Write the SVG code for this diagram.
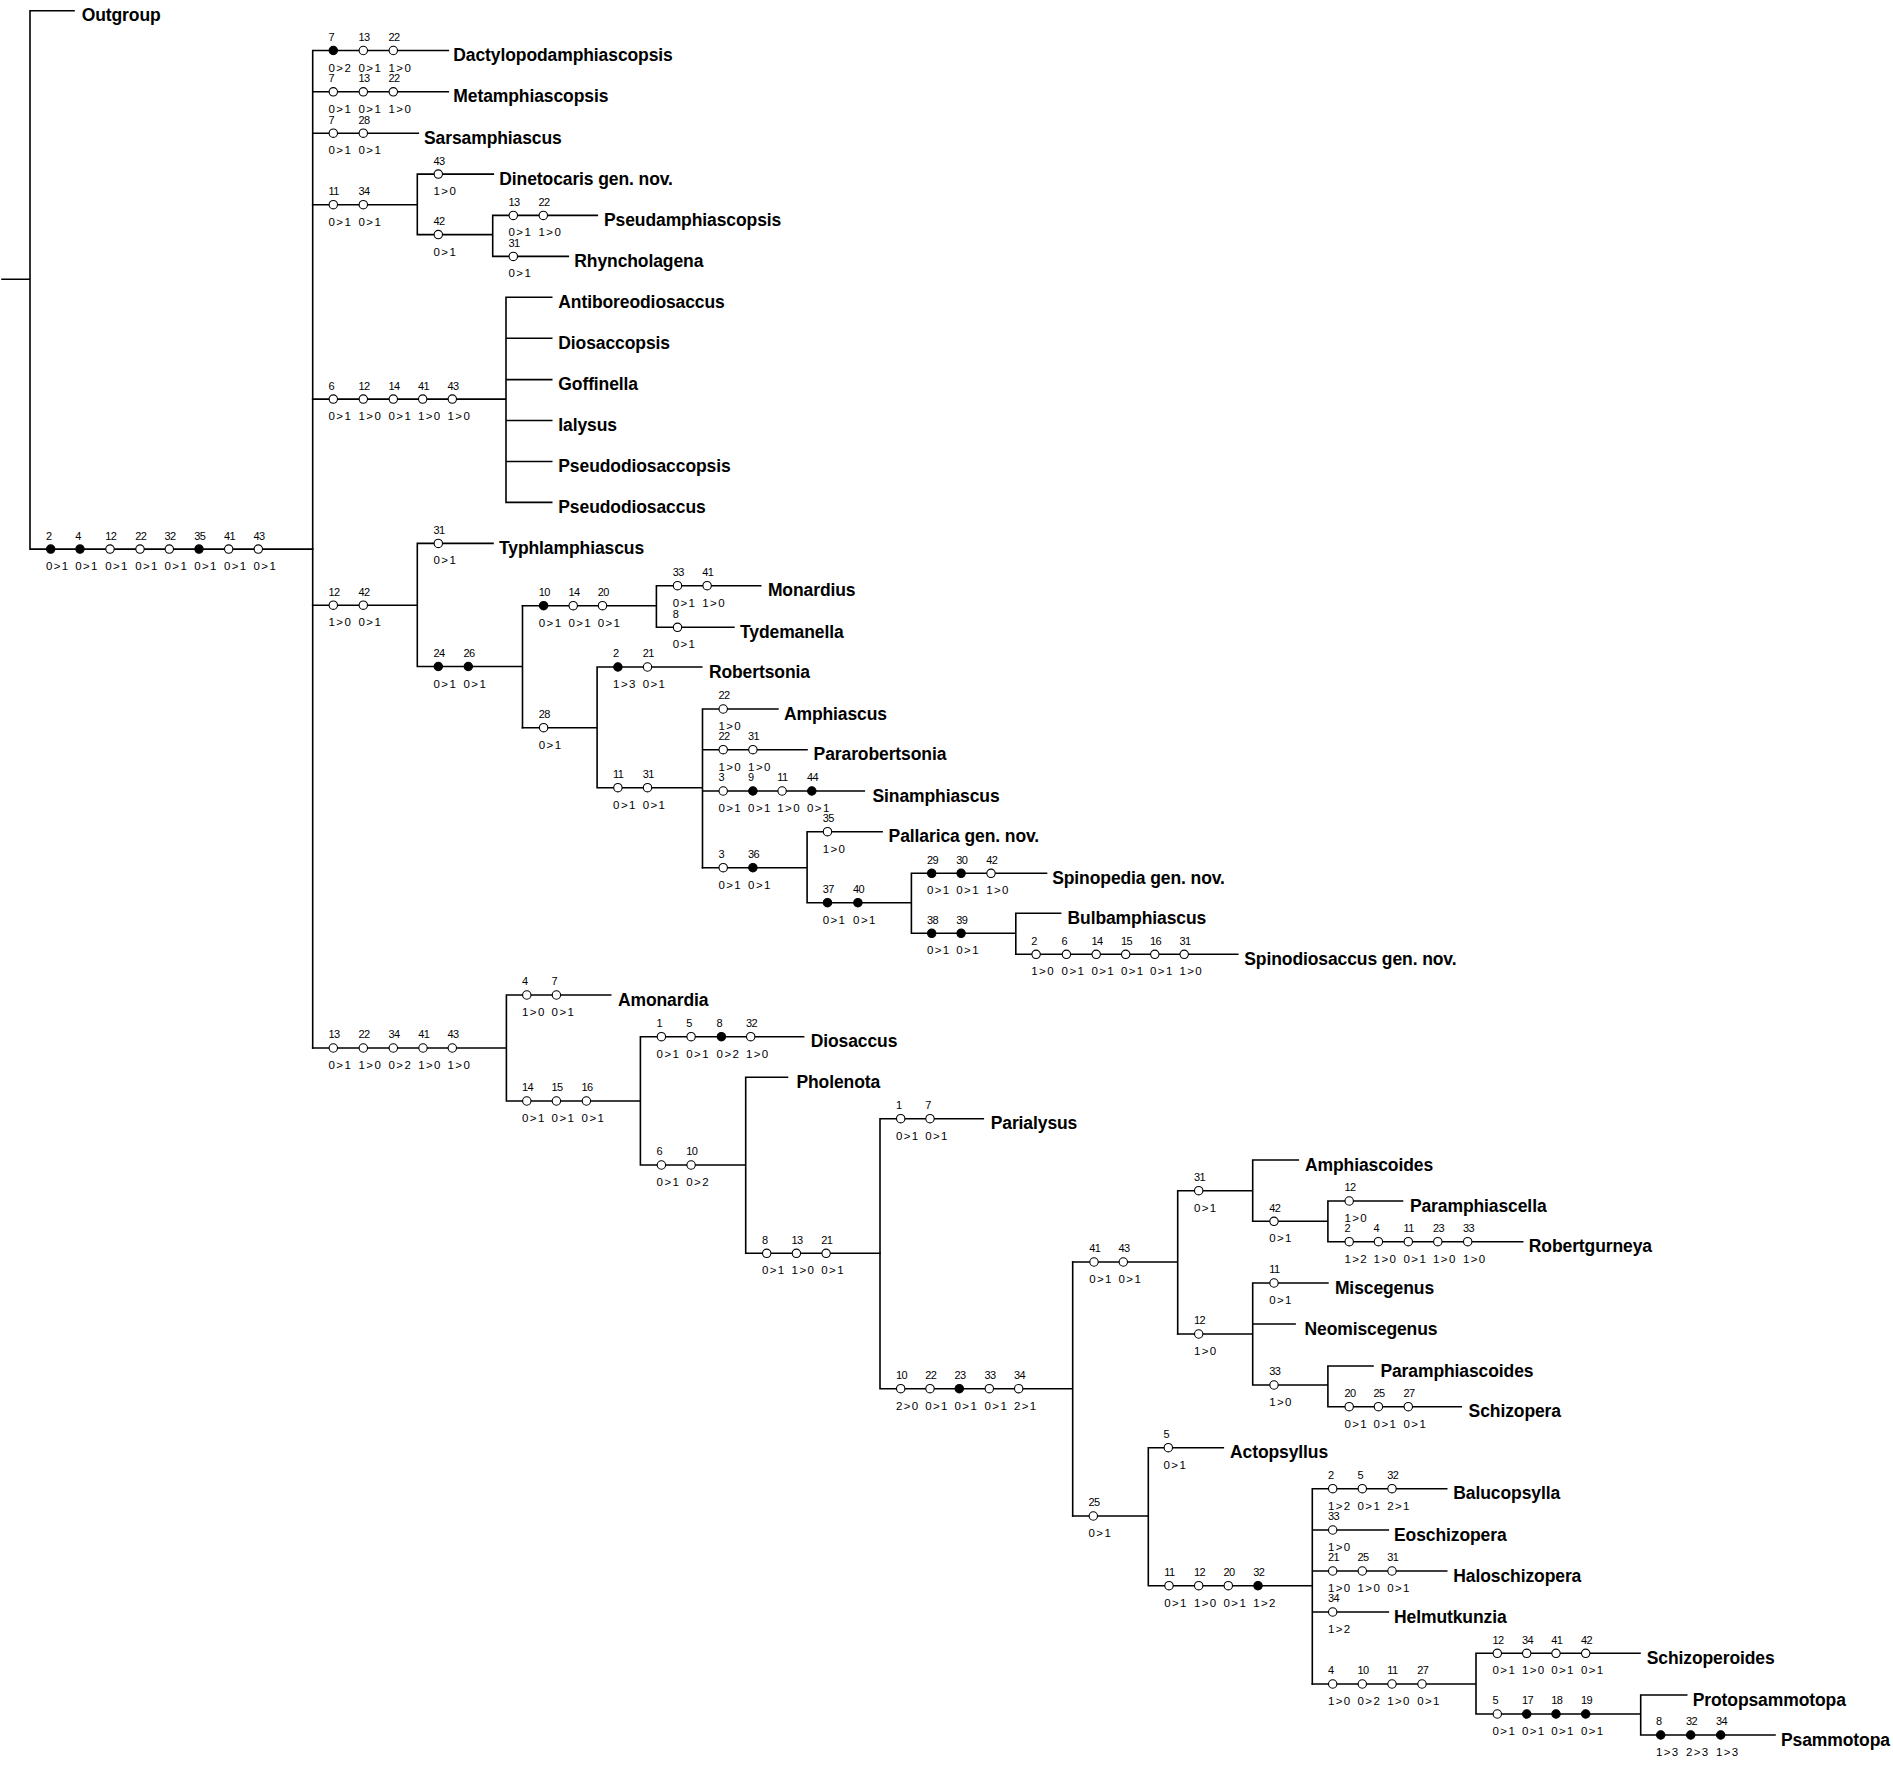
<svg xmlns="http://www.w3.org/2000/svg" width="1893" height="1787" viewBox="0 0 1893 1787">
<style>
.ln{stroke:#000;stroke-width:1.6;fill:none;stroke-linecap:square}
.o{fill:#fff;stroke:#000;stroke-width:1.1}
.f{fill:#000;stroke:#000;stroke-width:1.1}
text{font-family:"Liberation Sans",Arial,sans-serif;fill:#000}
.n{font-size:11px;letter-spacing:-0.6px}
.s{font-size:11.5px;letter-spacing:1.4px}
.t{font-size:17.5px;font-weight:bold;letter-spacing:-0.1px}
</style>
<rect width="1893" height="1787" fill="#fff"/>
<g id="connectors" class="ln">
<path d="M2,279.3H30M30,10.7V549.1M30,10.7H74M30,549.1H312.7"/>
<path d="M312.7,50.5V1048M312.7,50.5H448.3M312.7,91.8H448.3M312.7,133.2H418.3"/>
<path d="M312.7,204.7H417.3M417.3,174.1V234.6M417.3,174.1H493.3M417.3,234.6H492.7M492.7,215.4V256.4M492.7,215.4H597.3M492.7,256.4H568.3"/>
<path d="M312.7,399.1H506M506,297.3V502.4M506,297.3H551.7M506,338.3H551.7M506,379.6H551.7M506,420.5H551.7M506,461.5H551.7M506,502.4H551.7"/>
<path d="M312.7,605.2H417.3M417.3,543.4V666.5M417.3,543.4H493M417.3,666.5H522.5M522.5,605.7V727.7"/>
<path d="M522.5,605.7H656.4M656.4,585.7V627.3M656.4,585.7H760.7M656.4,627.3H733.9"/>
<path d="M522.5,727.7H597.1M597.1,667V787.7M597.1,667H701.8M597.1,787.7H702.5M702.5,709V867.7M702.5,709H777.9M702.5,749.7H807M702.5,791H864.3"/>
<path d="M702.5,867.7H807.1M807.1,831.7V902.7M807.1,831.7H882.1M807.1,902.7H911.4M911.4,873.3V933.3M911.4,873.3H1046.5M911.4,933.3H1015.8M1015.8,913.3V954.3M1015.8,913.3H1060.6M1015.8,954.3H1237.8"/>
<path d="M312.7,1048H506.4M506.4,995V1101M506.4,995H610.7M506.4,1101H640.4M640.4,1036.7V1165M640.4,1036.7H803.6M640.4,1165H745.7M745.7,1077.3V1253.3M745.7,1077.3H787.5M745.7,1253.3H880"/>
<path d="M880,1118.7V1388.7M880,1118.7H983.3M880,1388.7H1072.7M1072.7,1262V1516"/>
<path d="M1072.7,1262H1177.7M1177.7,1190.7V1334M1177.7,1190.7H1252.7M1252.7,1160V1221.3M1252.7,1160H1298.3M1252.7,1221.3H1327.9M1327.9,1201V1241.7M1327.9,1201H1402.5M1327.9,1241.7H1522.7"/>
<path d="M1177.7,1334H1252.7M1252.7,1283V1385M1252.7,1283H1327.9M1252.7,1324H1295.1M1252.7,1385H1327.9M1327.9,1366V1406.7M1327.9,1366H1373M1327.9,1406.7H1461.2"/>
<path d="M1072.7,1516H1148.3M1148.3,1447.7V1585.7M1148.3,1447.7H1223.3M1148.3,1585.7H1312.3M1312.3,1488.7V1684M1312.3,1488.7H1446.7M1312.3,1530H1388.3M1312.3,1571H1446.7M1312.3,1612H1388.3"/>
<path d="M1312.3,1684H1476M1476,1653.3V1714M1476,1653.3H1640M1476,1714H1640.7M1640.7,1695V1735M1640.7,1695H1686.7M1640.7,1735H1775"/>
</g>
<g id="characters">
<g id="ch-base" transform="translate(0,549.1)">
<g transform="translate(50.7)"><circle class="f" r="4.2"/><text class="n" x="-4.8" y="-9.6">2</text><text class="s" x="-4.8" y="21">0&gt;1</text></g>
<g transform="translate(80)"><circle class="f" r="4.2"/><text class="n" x="-4.8" y="-9.6">4</text><text class="s" x="-4.8" y="21">0&gt;1</text></g>
<g transform="translate(110)"><circle class="o" r="4.2"/><text class="n" x="-4.8" y="-9.6">12</text><text class="s" x="-4.8" y="21">0&gt;1</text></g>
<g transform="translate(140)"><circle class="o" r="4.2"/><text class="n" x="-4.8" y="-9.6">22</text><text class="s" x="-4.8" y="21">0&gt;1</text></g>
<g transform="translate(169.3)"><circle class="o" r="4.2"/><text class="n" x="-4.8" y="-9.6">32</text><text class="s" x="-4.8" y="21">0&gt;1</text></g>
<g transform="translate(199)"><circle class="f" r="4.2"/><text class="n" x="-4.8" y="-9.6">35</text><text class="s" x="-4.8" y="21">0&gt;1</text></g>
<g transform="translate(228.7)"><circle class="o" r="4.2"/><text class="n" x="-4.8" y="-9.6">41</text><text class="s" x="-4.8" y="21">0&gt;1</text></g>
<g transform="translate(258.3)"><circle class="o" r="4.2"/><text class="n" x="-4.8" y="-9.6">43</text><text class="s" x="-4.8" y="21">0&gt;1</text></g>
</g>
<g id="ch-dactylo" transform="translate(0,50.5)">
<g transform="translate(333.3)"><circle class="f" r="4.2"/><text class="n" x="-4.8" y="-9.6">7</text><text class="s" x="-4.8" y="21">0&gt;2</text></g>
<g transform="translate(363.3)"><circle class="o" r="4.2"/><text class="n" x="-4.8" y="-9.6">13</text><text class="s" x="-4.8" y="21">0&gt;1</text></g>
<g transform="translate(393.3)"><circle class="o" r="4.2"/><text class="n" x="-4.8" y="-9.6">22</text><text class="s" x="-4.8" y="21">1&gt;0</text></g>
</g>
<g id="ch-metamph" transform="translate(0,91.8)">
<g transform="translate(333.3)"><circle class="o" r="4.2"/><text class="n" x="-4.8" y="-9.6">7</text><text class="s" x="-4.8" y="21">0&gt;1</text></g>
<g transform="translate(363.3)"><circle class="o" r="4.2"/><text class="n" x="-4.8" y="-9.6">13</text><text class="s" x="-4.8" y="21">0&gt;1</text></g>
<g transform="translate(393.3)"><circle class="o" r="4.2"/><text class="n" x="-4.8" y="-9.6">22</text><text class="s" x="-4.8" y="21">1&gt;0</text></g>
</g>
<g id="ch-sarsamph" transform="translate(0,133.2)">
<g transform="translate(333.3)"><circle class="o" r="4.2"/><text class="n" x="-4.8" y="-9.6">7</text><text class="s" x="-4.8" y="21">0&gt;1</text></g>
<g transform="translate(363.3)"><circle class="o" r="4.2"/><text class="n" x="-4.8" y="-9.6">28</text><text class="s" x="-4.8" y="21">0&gt;1</text></g>
</g>
<g id="ch-11-34" transform="translate(0,204.7)">
<g transform="translate(333.3)"><circle class="o" r="4.2"/><text class="n" x="-4.8" y="-9.6">11</text><text class="s" x="-4.8" y="21">0&gt;1</text></g>
<g transform="translate(363.3)"><circle class="o" r="4.2"/><text class="n" x="-4.8" y="-9.6">34</text><text class="s" x="-4.8" y="21">0&gt;1</text></g>
</g>
<g id="ch-dinetocaris" transform="translate(0,174.1)">
<g transform="translate(438.3)"><circle class="o" r="4.2"/><text class="n" x="-4.8" y="-9.6">43</text><text class="s" x="-4.8" y="21">1&gt;0</text></g>
</g>
<g id="ch-42a" transform="translate(0,234.6)">
<g transform="translate(438.3)"><circle class="o" r="4.2"/><text class="n" x="-4.8" y="-9.6">42</text><text class="s" x="-4.8" y="21">0&gt;1</text></g>
</g>
<g id="ch-pseudamph" transform="translate(0,215.4)">
<g transform="translate(513.3)"><circle class="o" r="4.2"/><text class="n" x="-4.8" y="-9.6">13</text><text class="s" x="-4.8" y="21">0&gt;1</text></g>
<g transform="translate(543.3)"><circle class="o" r="4.2"/><text class="n" x="-4.8" y="-9.6">22</text><text class="s" x="-4.8" y="21">1&gt;0</text></g>
</g>
<g id="ch-rhyncho" transform="translate(0,256.4)">
<g transform="translate(513.3)"><circle class="o" r="4.2"/><text class="n" x="-4.8" y="-9.6">31</text><text class="s" x="-4.8" y="21">0&gt;1</text></g>
</g>
<g id="ch-6-43" transform="translate(0,399.1)">
<g transform="translate(333.3)"><circle class="o" r="4.2"/><text class="n" x="-4.8" y="-9.6">6</text><text class="s" x="-4.8" y="21">0&gt;1</text></g>
<g transform="translate(363.3)"><circle class="o" r="4.2"/><text class="n" x="-4.8" y="-9.6">12</text><text class="s" x="-4.8" y="21">1&gt;0</text></g>
<g transform="translate(393.3)"><circle class="o" r="4.2"/><text class="n" x="-4.8" y="-9.6">14</text><text class="s" x="-4.8" y="21">0&gt;1</text></g>
<g transform="translate(422.7)"><circle class="o" r="4.2"/><text class="n" x="-4.8" y="-9.6">41</text><text class="s" x="-4.8" y="21">1&gt;0</text></g>
<g transform="translate(452.3)"><circle class="o" r="4.2"/><text class="n" x="-4.8" y="-9.6">43</text><text class="s" x="-4.8" y="21">1&gt;0</text></g>
</g>
<g id="ch-12-42" transform="translate(0,605.2)">
<g transform="translate(333.3)"><circle class="o" r="4.2"/><text class="n" x="-4.8" y="-9.6">12</text><text class="s" x="-4.8" y="21">1&gt;0</text></g>
<g transform="translate(363.3)"><circle class="o" r="4.2"/><text class="n" x="-4.8" y="-9.6">42</text><text class="s" x="-4.8" y="21">0&gt;1</text></g>
</g>
<g id="ch-typhl" transform="translate(0,543.4)">
<g transform="translate(438.3)"><circle class="o" r="4.2"/><text class="n" x="-4.8" y="-9.6">31</text><text class="s" x="-4.8" y="21">0&gt;1</text></g>
</g>
<g id="ch-24-26" transform="translate(0,666.5)">
<g transform="translate(438.3)"><circle class="f" r="4.2"/><text class="n" x="-4.8" y="-9.6">24</text><text class="s" x="-4.8" y="21">0&gt;1</text></g>
<g transform="translate(468.3)"><circle class="f" r="4.2"/><text class="n" x="-4.8" y="-9.6">26</text><text class="s" x="-4.8" y="21">0&gt;1</text></g>
</g>
<g id="ch-10-14-20" transform="translate(0,605.7)">
<g transform="translate(543.6)"><circle class="f" r="4.2"/><text class="n" x="-4.8" y="-9.6">10</text><text class="s" x="-4.8" y="21">0&gt;1</text></g>
<g transform="translate(573.2)"><circle class="o" r="4.2"/><text class="n" x="-4.8" y="-9.6">14</text><text class="s" x="-4.8" y="21">0&gt;1</text></g>
<g transform="translate(602.5)"><circle class="o" r="4.2"/><text class="n" x="-4.8" y="-9.6">20</text><text class="s" x="-4.8" y="21">0&gt;1</text></g>
</g>
<g id="ch-monardius" transform="translate(0,585.7)">
<g transform="translate(677.5)"><circle class="o" r="4.2"/><text class="n" x="-4.8" y="-9.6">33</text><text class="s" x="-4.8" y="21">0&gt;1</text></g>
<g transform="translate(707.1)"><circle class="o" r="4.2"/><text class="n" x="-4.8" y="-9.6">41</text><text class="s" x="-4.8" y="21">1&gt;0</text></g>
</g>
<g id="ch-tydemanella" transform="translate(0,627.3)">
<g transform="translate(677.5)"><circle class="o" r="4.2"/><text class="n" x="-4.8" y="-9.6">8</text><text class="s" x="-4.8" y="21">0&gt;1</text></g>
</g>
<g id="ch-28" transform="translate(0,727.7)">
<g transform="translate(543.6)"><circle class="o" r="4.2"/><text class="n" x="-4.8" y="-9.6">28</text><text class="s" x="-4.8" y="21">0&gt;1</text></g>
</g>
<g id="ch-robertsonia" transform="translate(0,667)">
<g transform="translate(617.9)"><circle class="f" r="4.2"/><text class="n" x="-4.8" y="-9.6">2</text><text class="s" x="-4.8" y="21">1&gt;3</text></g>
<g transform="translate(647.5)"><circle class="o" r="4.2"/><text class="n" x="-4.8" y="-9.6">21</text><text class="s" x="-4.8" y="21">0&gt;1</text></g>
</g>
<g id="ch-11-31" transform="translate(0,787.7)">
<g transform="translate(617.9)"><circle class="o" r="4.2"/><text class="n" x="-4.8" y="-9.6">11</text><text class="s" x="-4.8" y="21">0&gt;1</text></g>
<g transform="translate(647.5)"><circle class="o" r="4.2"/><text class="n" x="-4.8" y="-9.6">31</text><text class="s" x="-4.8" y="21">0&gt;1</text></g>
</g>
<g id="ch-amphiascus" transform="translate(0,709)">
<g transform="translate(723.2)"><circle class="o" r="4.2"/><text class="n" x="-4.8" y="-9.6">22</text><text class="s" x="-4.8" y="21">1&gt;0</text></g>
</g>
<g id="ch-pararob" transform="translate(0,749.7)">
<g transform="translate(723.2)"><circle class="o" r="4.2"/><text class="n" x="-4.8" y="-9.6">22</text><text class="s" x="-4.8" y="21">1&gt;0</text></g>
<g transform="translate(752.9)"><circle class="o" r="4.2"/><text class="n" x="-4.8" y="-9.6">31</text><text class="s" x="-4.8" y="21">1&gt;0</text></g>
</g>
<g id="ch-sinamph" transform="translate(0,791)">
<g transform="translate(723.2)"><circle class="o" r="4.2"/><text class="n" x="-4.8" y="-9.6">3</text><text class="s" x="-4.8" y="21">0&gt;1</text></g>
<g transform="translate(752.9)"><circle class="f" r="4.2"/><text class="n" x="-4.8" y="-9.6">9</text><text class="s" x="-4.8" y="21">0&gt;1</text></g>
<g transform="translate(782.1)"><circle class="o" r="4.2"/><text class="n" x="-4.8" y="-9.6">11</text><text class="s" x="-4.8" y="21">1&gt;0</text></g>
<g transform="translate(811.8)"><circle class="f" r="4.2"/><text class="n" x="-4.8" y="-9.6">44</text><text class="s" x="-4.8" y="21">0&gt;1</text></g>
</g>
<g id="ch-3-36" transform="translate(0,867.7)">
<g transform="translate(723.2)"><circle class="o" r="4.2"/><text class="n" x="-4.8" y="-9.6">3</text><text class="s" x="-4.8" y="21">0&gt;1</text></g>
<g transform="translate(752.9)"><circle class="f" r="4.2"/><text class="n" x="-4.8" y="-9.6">36</text><text class="s" x="-4.8" y="21">0&gt;1</text></g>
</g>
<g id="ch-pallarica" transform="translate(0,831.7)">
<g transform="translate(827.5)"><circle class="o" r="4.2"/><text class="n" x="-4.8" y="-9.6">35</text><text class="s" x="-4.8" y="21">1&gt;0</text></g>
</g>
<g id="ch-37-40" transform="translate(0,902.7)">
<g transform="translate(827.5)"><circle class="f" r="4.2"/><text class="n" x="-4.8" y="-9.6">37</text><text class="s" x="-4.8" y="21">0&gt;1</text></g>
<g transform="translate(857.9)"><circle class="f" r="4.2"/><text class="n" x="-4.8" y="-9.6">40</text><text class="s" x="-4.8" y="21">0&gt;1</text></g>
</g>
<g id="ch-spinopedia" transform="translate(0,873.3)">
<g transform="translate(931.7)"><circle class="f" r="4.2"/><text class="n" x="-4.8" y="-9.6">29</text><text class="s" x="-4.8" y="21">0&gt;1</text></g>
<g transform="translate(961.1)"><circle class="f" r="4.2"/><text class="n" x="-4.8" y="-9.6">30</text><text class="s" x="-4.8" y="21">0&gt;1</text></g>
<g transform="translate(991)"><circle class="o" r="4.2"/><text class="n" x="-4.8" y="-9.6">42</text><text class="s" x="-4.8" y="21">1&gt;0</text></g>
</g>
<g id="ch-38-39" transform="translate(0,933.3)">
<g transform="translate(931.7)"><circle class="f" r="4.2"/><text class="n" x="-4.8" y="-9.6">38</text><text class="s" x="-4.8" y="21">0&gt;1</text></g>
<g transform="translate(961.1)"><circle class="f" r="4.2"/><text class="n" x="-4.8" y="-9.6">39</text><text class="s" x="-4.8" y="21">0&gt;1</text></g>
</g>
<g id="ch-spinodiosaccus" transform="translate(0,954.3)">
<g transform="translate(1036.1)"><circle class="o" r="4.2"/><text class="n" x="-4.8" y="-9.6">2</text><text class="s" x="-4.8" y="21">1&gt;0</text></g>
<g transform="translate(1066.4)"><circle class="o" r="4.2"/><text class="n" x="-4.8" y="-9.6">6</text><text class="s" x="-4.8" y="21">0&gt;1</text></g>
<g transform="translate(1096.2)"><circle class="o" r="4.2"/><text class="n" x="-4.8" y="-9.6">14</text><text class="s" x="-4.8" y="21">0&gt;1</text></g>
<g transform="translate(1125.7)"><circle class="o" r="4.2"/><text class="n" x="-4.8" y="-9.6">15</text><text class="s" x="-4.8" y="21">0&gt;1</text></g>
<g transform="translate(1154.8)"><circle class="o" r="4.2"/><text class="n" x="-4.8" y="-9.6">16</text><text class="s" x="-4.8" y="21">0&gt;1</text></g>
<g transform="translate(1184.2)"><circle class="o" r="4.2"/><text class="n" x="-4.8" y="-9.6">31</text><text class="s" x="-4.8" y="21">1&gt;0</text></g>
</g>
<g id="ch-13-43" transform="translate(0,1048)">
<g transform="translate(333.3)"><circle class="o" r="4.2"/><text class="n" x="-4.8" y="-9.6">13</text><text class="s" x="-4.8" y="21">0&gt;1</text></g>
<g transform="translate(363.3)"><circle class="o" r="4.2"/><text class="n" x="-4.8" y="-9.6">22</text><text class="s" x="-4.8" y="21">1&gt;0</text></g>
<g transform="translate(393.3)"><circle class="o" r="4.2"/><text class="n" x="-4.8" y="-9.6">34</text><text class="s" x="-4.8" y="21">0&gt;2</text></g>
<g transform="translate(423)"><circle class="o" r="4.2"/><text class="n" x="-4.8" y="-9.6">41</text><text class="s" x="-4.8" y="21">1&gt;0</text></g>
<g transform="translate(452.3)"><circle class="o" r="4.2"/><text class="n" x="-4.8" y="-9.6">43</text><text class="s" x="-4.8" y="21">1&gt;0</text></g>
</g>
<g id="ch-amonardia" transform="translate(0,995)">
<g transform="translate(526.8)"><circle class="o" r="4.2"/><text class="n" x="-4.8" y="-9.6">4</text><text class="s" x="-4.8" y="21">1&gt;0</text></g>
<g transform="translate(556.4)"><circle class="o" r="4.2"/><text class="n" x="-4.8" y="-9.6">7</text><text class="s" x="-4.8" y="21">0&gt;1</text></g>
</g>
<g id="ch-14-15-16" transform="translate(0,1101)">
<g transform="translate(526.8)"><circle class="o" r="4.2"/><text class="n" x="-4.8" y="-9.6">14</text><text class="s" x="-4.8" y="21">0&gt;1</text></g>
<g transform="translate(556.4)"><circle class="o" r="4.2"/><text class="n" x="-4.8" y="-9.6">15</text><text class="s" x="-4.8" y="21">0&gt;1</text></g>
<g transform="translate(586.4)"><circle class="o" r="4.2"/><text class="n" x="-4.8" y="-9.6">16</text><text class="s" x="-4.8" y="21">0&gt;1</text></g>
</g>
<g id="ch-diosaccus" transform="translate(0,1036.7)">
<g transform="translate(661.4)"><circle class="o" r="4.2"/><text class="n" x="-4.8" y="-9.6">1</text><text class="s" x="-4.8" y="21">0&gt;1</text></g>
<g transform="translate(691.1)"><circle class="o" r="4.2"/><text class="n" x="-4.8" y="-9.6">5</text><text class="s" x="-4.8" y="21">0&gt;1</text></g>
<g transform="translate(721.4)"><circle class="f" r="4.2"/><text class="n" x="-4.8" y="-9.6">8</text><text class="s" x="-4.8" y="21">0&gt;2</text></g>
<g transform="translate(750.7)"><circle class="o" r="4.2"/><text class="n" x="-4.8" y="-9.6">32</text><text class="s" x="-4.8" y="21">1&gt;0</text></g>
</g>
<g id="ch-6-10" transform="translate(0,1165)">
<g transform="translate(661.4)"><circle class="o" r="4.2"/><text class="n" x="-4.8" y="-9.6">6</text><text class="s" x="-4.8" y="21">0&gt;1</text></g>
<g transform="translate(691.1)"><circle class="o" r="4.2"/><text class="n" x="-4.8" y="-9.6">10</text><text class="s" x="-4.8" y="21">0&gt;2</text></g>
</g>
<g id="ch-8-13-21" transform="translate(0,1253.3)">
<g transform="translate(766.7)"><circle class="o" r="4.2"/><text class="n" x="-4.8" y="-9.6">8</text><text class="s" x="-4.8" y="21">0&gt;1</text></g>
<g transform="translate(796.4)"><circle class="o" r="4.2"/><text class="n" x="-4.8" y="-9.6">13</text><text class="s" x="-4.8" y="21">1&gt;0</text></g>
<g transform="translate(826.1)"><circle class="o" r="4.2"/><text class="n" x="-4.8" y="-9.6">21</text><text class="s" x="-4.8" y="21">0&gt;1</text></g>
</g>
<g id="ch-parialysus" transform="translate(0,1118.7)">
<g transform="translate(900.7)"><circle class="o" r="4.2"/><text class="n" x="-4.8" y="-9.6">1</text><text class="s" x="-4.8" y="21">0&gt;1</text></g>
<g transform="translate(930)"><circle class="o" r="4.2"/><text class="n" x="-4.8" y="-9.6">7</text><text class="s" x="-4.8" y="21">0&gt;1</text></g>
</g>
<g id="ch-10-34" transform="translate(0,1388.7)">
<g transform="translate(900.7)"><circle class="o" r="4.2"/><text class="n" x="-4.8" y="-9.6">10</text><text class="s" x="-4.8" y="21">2&gt;0</text></g>
<g transform="translate(930)"><circle class="o" r="4.2"/><text class="n" x="-4.8" y="-9.6">22</text><text class="s" x="-4.8" y="21">0&gt;1</text></g>
<g transform="translate(959.3)"><circle class="f" r="4.2"/><text class="n" x="-4.8" y="-9.6">23</text><text class="s" x="-4.8" y="21">0&gt;1</text></g>
<g transform="translate(989.3)"><circle class="o" r="4.2"/><text class="n" x="-4.8" y="-9.6">33</text><text class="s" x="-4.8" y="21">0&gt;1</text></g>
<g transform="translate(1018.7)"><circle class="o" r="4.2"/><text class="n" x="-4.8" y="-9.6">34</text><text class="s" x="-4.8" y="21">2&gt;1</text></g>
</g>
<g id="ch-41-43" transform="translate(0,1262)">
<g transform="translate(1094)"><circle class="o" r="4.2"/><text class="n" x="-4.8" y="-9.6">41</text><text class="s" x="-4.8" y="21">0&gt;1</text></g>
<g transform="translate(1123.3)"><circle class="o" r="4.2"/><text class="n" x="-4.8" y="-9.6">43</text><text class="s" x="-4.8" y="21">0&gt;1</text></g>
</g>
<g id="ch-31b" transform="translate(0,1190.7)">
<g transform="translate(1198.7)"><circle class="o" r="4.2"/><text class="n" x="-4.8" y="-9.6">31</text><text class="s" x="-4.8" y="21">0&gt;1</text></g>
</g>
<g id="ch-42b" transform="translate(0,1221.3)">
<g transform="translate(1274)"><circle class="o" r="4.2"/><text class="n" x="-4.8" y="-9.6">42</text><text class="s" x="-4.8" y="21">0&gt;1</text></g>
</g>
<g id="ch-paramphiascella" transform="translate(0,1201)">
<g transform="translate(1349.2)"><circle class="o" r="4.2"/><text class="n" x="-4.8" y="-9.6">12</text><text class="s" x="-4.8" y="21">1&gt;0</text></g>
</g>
<g id="ch-robertgurneya" transform="translate(0,1241.7)">
<g transform="translate(1349.2)"><circle class="o" r="4.2"/><text class="n" x="-4.8" y="-9.6">2</text><text class="s" x="-4.8" y="21">1&gt;2</text></g>
<g transform="translate(1378.4)"><circle class="o" r="4.2"/><text class="n" x="-4.8" y="-9.6">4</text><text class="s" x="-4.8" y="21">1&gt;0</text></g>
<g transform="translate(1408.3)"><circle class="o" r="4.2"/><text class="n" x="-4.8" y="-9.6">11</text><text class="s" x="-4.8" y="21">0&gt;1</text></g>
<g transform="translate(1437.8)"><circle class="o" r="4.2"/><text class="n" x="-4.8" y="-9.6">23</text><text class="s" x="-4.8" y="21">1&gt;0</text></g>
<g transform="translate(1467.7)"><circle class="o" r="4.2"/><text class="n" x="-4.8" y="-9.6">33</text><text class="s" x="-4.8" y="21">1&gt;0</text></g>
</g>
<g id="ch-12b" transform="translate(0,1334)">
<g transform="translate(1198.7)"><circle class="o" r="4.2"/><text class="n" x="-4.8" y="-9.6">12</text><text class="s" x="-4.8" y="21">1&gt;0</text></g>
</g>
<g id="ch-miscegenus" transform="translate(0,1283)">
<g transform="translate(1274)"><circle class="o" r="4.2"/><text class="n" x="-4.8" y="-9.6">11</text><text class="s" x="-4.8" y="21">0&gt;1</text></g>
</g>
<g id="ch-33b" transform="translate(0,1385)">
<g transform="translate(1274)"><circle class="o" r="4.2"/><text class="n" x="-4.8" y="-9.6">33</text><text class="s" x="-4.8" y="21">1&gt;0</text></g>
</g>
<g id="ch-schizopera" transform="translate(0,1406.7)">
<g transform="translate(1349.2)"><circle class="o" r="4.2"/><text class="n" x="-4.8" y="-9.6">20</text><text class="s" x="-4.8" y="21">0&gt;1</text></g>
<g transform="translate(1378.4)"><circle class="o" r="4.2"/><text class="n" x="-4.8" y="-9.6">25</text><text class="s" x="-4.8" y="21">0&gt;1</text></g>
<g transform="translate(1408.3)"><circle class="o" r="4.2"/><text class="n" x="-4.8" y="-9.6">27</text><text class="s" x="-4.8" y="21">0&gt;1</text></g>
</g>
<g id="ch-25" transform="translate(0,1516)">
<g transform="translate(1093.3)"><circle class="o" r="4.2"/><text class="n" x="-4.8" y="-9.6">25</text><text class="s" x="-4.8" y="21">0&gt;1</text></g>
</g>
<g id="ch-actopsyllus" transform="translate(0,1447.7)">
<g transform="translate(1168.3)"><circle class="o" r="4.2"/><text class="n" x="-4.8" y="-9.6">5</text><text class="s" x="-4.8" y="21">0&gt;1</text></g>
</g>
<g id="ch-11-32" transform="translate(0,1585.7)">
<g transform="translate(1169)"><circle class="o" r="4.2"/><text class="n" x="-4.8" y="-9.6">11</text><text class="s" x="-4.8" y="21">0&gt;1</text></g>
<g transform="translate(1198.7)"><circle class="o" r="4.2"/><text class="n" x="-4.8" y="-9.6">12</text><text class="s" x="-4.8" y="21">1&gt;0</text></g>
<g transform="translate(1228.3)"><circle class="o" r="4.2"/><text class="n" x="-4.8" y="-9.6">20</text><text class="s" x="-4.8" y="21">0&gt;1</text></g>
<g transform="translate(1258)"><circle class="f" r="4.2"/><text class="n" x="-4.8" y="-9.6">32</text><text class="s" x="-4.8" y="21">1&gt;2</text></g>
</g>
<g id="ch-balucopsylla" transform="translate(0,1488.7)">
<g transform="translate(1332.7)"><circle class="o" r="4.2"/><text class="n" x="-4.8" y="-9.6">2</text><text class="s" x="-4.8" y="21">1&gt;2</text></g>
<g transform="translate(1362.3)"><circle class="o" r="4.2"/><text class="n" x="-4.8" y="-9.6">5</text><text class="s" x="-4.8" y="21">0&gt;1</text></g>
<g transform="translate(1392)"><circle class="o" r="4.2"/><text class="n" x="-4.8" y="-9.6">32</text><text class="s" x="-4.8" y="21">2&gt;1</text></g>
</g>
<g id="ch-eoschizopera" transform="translate(0,1530)">
<g transform="translate(1332.7)"><circle class="o" r="4.2"/><text class="n" x="-4.8" y="-9.6">33</text><text class="s" x="-4.8" y="21">1&gt;0</text></g>
</g>
<g id="ch-haloschizopera" transform="translate(0,1571)">
<g transform="translate(1332.7)"><circle class="o" r="4.2"/><text class="n" x="-4.8" y="-9.6">21</text><text class="s" x="-4.8" y="21">1&gt;0</text></g>
<g transform="translate(1362.3)"><circle class="o" r="4.2"/><text class="n" x="-4.8" y="-9.6">25</text><text class="s" x="-4.8" y="21">1&gt;0</text></g>
<g transform="translate(1392)"><circle class="o" r="4.2"/><text class="n" x="-4.8" y="-9.6">31</text><text class="s" x="-4.8" y="21">0&gt;1</text></g>
</g>
<g id="ch-helmutkunzia" transform="translate(0,1612)">
<g transform="translate(1332.7)"><circle class="o" r="4.2"/><text class="n" x="-4.8" y="-9.6">34</text><text class="s" x="-4.8" y="21">1&gt;2</text></g>
</g>
<g id="ch-4-27" transform="translate(0,1684)">
<g transform="translate(1332.7)"><circle class="o" r="4.2"/><text class="n" x="-4.8" y="-9.6">4</text><text class="s" x="-4.8" y="21">1&gt;0</text></g>
<g transform="translate(1362.3)"><circle class="o" r="4.2"/><text class="n" x="-4.8" y="-9.6">10</text><text class="s" x="-4.8" y="21">0&gt;2</text></g>
<g transform="translate(1392)"><circle class="o" r="4.2"/><text class="n" x="-4.8" y="-9.6">11</text><text class="s" x="-4.8" y="21">1&gt;0</text></g>
<g transform="translate(1422)"><circle class="o" r="4.2"/><text class="n" x="-4.8" y="-9.6">27</text><text class="s" x="-4.8" y="21">0&gt;1</text></g>
</g>
<g id="ch-schizoperoides" transform="translate(0,1653.3)">
<g transform="translate(1497.3)"><circle class="o" r="4.2"/><text class="n" x="-4.8" y="-9.6">12</text><text class="s" x="-4.8" y="21">0&gt;1</text></g>
<g transform="translate(1526.7)"><circle class="o" r="4.2"/><text class="n" x="-4.8" y="-9.6">34</text><text class="s" x="-4.8" y="21">1&gt;0</text></g>
<g transform="translate(1556)"><circle class="o" r="4.2"/><text class="n" x="-4.8" y="-9.6">41</text><text class="s" x="-4.8" y="21">0&gt;1</text></g>
<g transform="translate(1585.7)"><circle class="o" r="4.2"/><text class="n" x="-4.8" y="-9.6">42</text><text class="s" x="-4.8" y="21">0&gt;1</text></g>
</g>
<g id="ch-5-19" transform="translate(0,1714)">
<g transform="translate(1497.3)"><circle class="o" r="4.2"/><text class="n" x="-4.8" y="-9.6">5</text><text class="s" x="-4.8" y="21">0&gt;1</text></g>
<g transform="translate(1526.7)"><circle class="f" r="4.2"/><text class="n" x="-4.8" y="-9.6">17</text><text class="s" x="-4.8" y="21">0&gt;1</text></g>
<g transform="translate(1556)"><circle class="f" r="4.2"/><text class="n" x="-4.8" y="-9.6">18</text><text class="s" x="-4.8" y="21">0&gt;1</text></g>
<g transform="translate(1585.7)"><circle class="f" r="4.2"/><text class="n" x="-4.8" y="-9.6">19</text><text class="s" x="-4.8" y="21">0&gt;1</text></g>
</g>
<g id="ch-psammotopa" transform="translate(0,1735)">
<g transform="translate(1660.7)"><circle class="f" r="4.2"/><text class="n" x="-4.8" y="-9.6">8</text><text class="s" x="-4.8" y="21">1&gt;3</text></g>
<g transform="translate(1690.7)"><circle class="f" r="4.2"/><text class="n" x="-4.8" y="-9.6">32</text><text class="s" x="-4.8" y="21">2&gt;3</text></g>
<g transform="translate(1720.7)"><circle class="f" r="4.2"/><text class="n" x="-4.8" y="-9.6">34</text><text class="s" x="-4.8" y="21">1&gt;3</text></g>
</g>
</g>
<g id="taxa" class="t">
<g id="t-outgroup"><text x="81.7" y="21.2">Outgroup</text></g>
<g id="t-dactylopodamphiascopsis"><text x="453.3" y="61">Dactylopodamphiascopsis</text></g>
<g id="t-metamphiascopsis"><text x="453.3" y="102.3">Metamphiascopsis</text></g>
<g id="t-sarsamphiascus"><text x="424" y="143.7">Sarsamphiascus</text></g>
<g id="t-dinetocaris"><text x="499.3" y="184.6">Dinetocaris gen. nov.</text></g>
<g id="t-pseudamphiascopsis"><text x="604" y="225.9">Pseudamphiascopsis</text></g>
<g id="t-rhyncholagena"><text x="574.3" y="266.9">Rhyncholagena</text></g>
<g id="t-antiboreodiosaccus"><text x="558.3" y="307.8">Antiboreodiosaccus</text></g>
<g id="t-diosaccopsis"><text x="558.3" y="348.8">Diosaccopsis</text></g>
<g id="t-goffinella"><text x="558.3" y="390.1">Goffinella</text></g>
<g id="t-ialysus"><text x="558.3" y="431">Ialysus</text></g>
<g id="t-pseudodiosaccopsis"><text x="558.3" y="472">Pseudodiosaccopsis</text></g>
<g id="t-pseudodiosaccus"><text x="558.3" y="512.9">Pseudodiosaccus</text></g>
<g id="t-typhlamphiascus"><text x="499" y="553.9">Typhlamphiascus</text></g>
<g id="t-monardius"><text x="767.9" y="596.2">Monardius</text></g>
<g id="t-tydemanella"><text x="740" y="637.8">Tydemanella</text></g>
<g id="t-robertsonia"><text x="708.9" y="677.5">Robertsonia</text></g>
<g id="t-amphiascus"><text x="783.9" y="719.5">Amphiascus</text></g>
<g id="t-pararobertsonia"><text x="813.6" y="760.2">Pararobertsonia</text></g>
<g id="t-sinamphiascus"><text x="872.5" y="801.5">Sinamphiascus</text></g>
<g id="t-pallarica"><text x="888.6" y="842.2">Pallarica gen. nov.</text></g>
<g id="t-spinopedia"><text x="1052.2" y="883.8">Spinopedia gen. nov.</text></g>
<g id="t-bulbamphiascus"><text x="1067.5" y="923.8">Bulbamphiascus</text></g>
<g id="t-spinodiosaccus"><text x="1244.3" y="964.8">Spinodiosaccus gen. nov.</text></g>
<g id="t-amonardia"><text x="617.9" y="1005.5">Amonardia</text></g>
<g id="t-diosaccus"><text x="810.7" y="1047.2">Diosaccus</text></g>
<g id="t-pholenota"><text x="796.4" y="1087.8">Pholenota</text></g>
<g id="t-parialysus"><text x="990.7" y="1129.2">Parialysus</text></g>
<g id="t-amphiascoides"><text x="1305" y="1170.5">Amphiascoides</text></g>
<g id="t-paramphiascella"><text x="1409.9" y="1211.5">Paramphiascella</text></g>
<g id="t-robertgurneya"><text x="1528.8" y="1252.2">Robertgurneya</text></g>
<g id="t-miscegenus"><text x="1334.9" y="1293.5">Miscegenus</text></g>
<g id="t-neomiscegenus"><text x="1304.5" y="1334.5">Neomiscegenus</text></g>
<g id="t-paramphiascoides"><text x="1380.4" y="1376.5">Paramphiascoides</text></g>
<g id="t-schizopera"><text x="1468.6" y="1417.2">Schizopera</text></g>
<g id="t-actopsyllus"><text x="1230" y="1458.2">Actopsyllus</text></g>
<g id="t-balucopsylla"><text x="1453.3" y="1499.2">Balucopsylla</text></g>
<g id="t-eoschizopera"><text x="1394" y="1540.5">Eoschizopera</text></g>
<g id="t-haloschizopera"><text x="1453.3" y="1581.5">Haloschizopera</text></g>
<g id="t-helmutkunzia"><text x="1394" y="1622.5">Helmutkunzia</text></g>
<g id="t-schizoperoides"><text x="1646.7" y="1663.8">Schizoperoides</text></g>
<g id="t-protopsammotopa"><text x="1692.7" y="1705.5">Protopsammotopa</text></g>
<g id="t-psammotopa"><text x="1781" y="1745.5">Psammotopa</text></g>
</g>
</svg>
